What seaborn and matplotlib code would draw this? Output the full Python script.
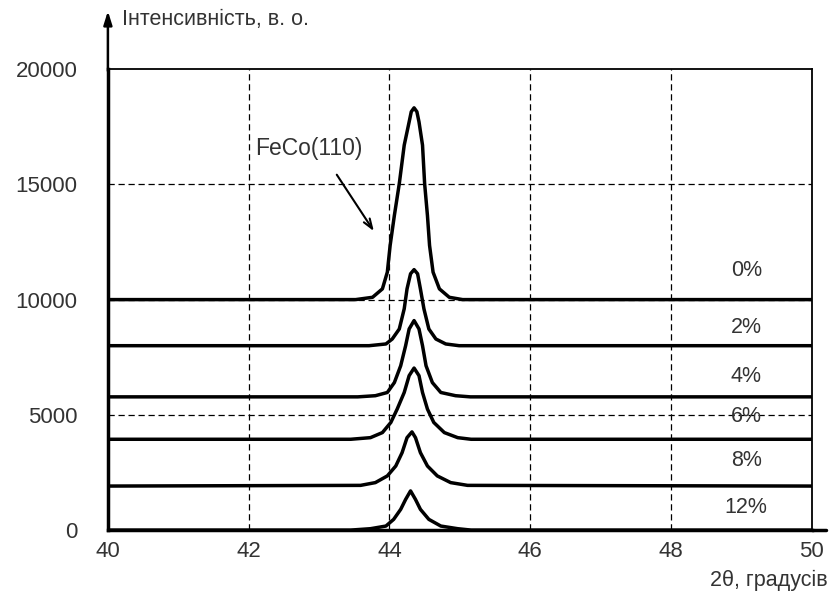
import pandas as pd
import matplotlib.pyplot as plt
import seaborn as sns

# FeCo(110) peak, samples offset vertically
samples = ['0%', '2%', '4%', '6%', '8%', '12%']

tt_0 = [40.0, 43.52, 43.76, 43.90, 43.97, 44.01, 44.07, 44.14, 44.21, 44.28, 44.31, 44.35, 44.39,
        44.42, 44.47, 44.50, 44.54, 44.57, 44.62, 44.71, 44.85, 45.04, 50.0]
int_0 = [10000, 10000, 10100, 10465, 11190, 12350, 13650, 15030, 16700, 17710, 18150, 18320, 18150,
         17710, 16700, 15030, 13650, 12350, 11190, 10465, 10100, 10000, 10000]

tt_2 = [40.0, 43.71, 43.95, 44.04, 44.14, 44.21, 44.25, 44.30, 44.35, 44.40, 44.44, 44.49, 44.56,
        44.66, 44.80, 44.99, 50.0]
int_2 = [8000, 8000, 8075, 8290, 8725, 9600, 10465, 11120, 11300, 11120, 10465, 9600, 8725,
         8290, 8075, 8000, 8000]

tt_4 = [40.0, 43.55, 43.80, 43.97, 44.07, 44.16, 44.23, 44.28, 44.35, 44.42, 44.47, 44.52, 44.61,
        44.73, 44.94, 45.15, 50.0]
int_4 = [5780, 5780, 5830, 5970, 6400, 7130, 8000, 8725, 9090, 8725, 8000, 7130, 6400,
         5970, 5830, 5780, 5780]

tt_6 = [40.0, 43.45, 43.73, 43.90, 44.02, 44.11, 44.21, 44.28, 44.35, 44.42, 44.47, 44.54, 44.63,
        44.78, 44.97, 45.16, 50.0]
int_6 = [3940, 3940, 4010, 4230, 4670, 5250, 5970, 6700, 7030, 6700, 5970, 5250, 4670,
         4230, 4010, 3940, 3940]

tt_8 = [40.0, 43.59, 43.80, 43.97, 44.09, 44.18, 44.25, 44.32, 44.37, 44.44, 44.54, 44.68, 44.87,
        45.11, 50.0]
int_8 = [1910, 1940, 2060, 2350, 2780, 3360, 4010, 4260, 4010, 3360, 2780, 2350, 2060,
         1940, 1910]

tt_12 = [40.0, 43.45, 43.73, 43.95, 44.06, 44.16, 44.23, 44.30, 44.37, 44.44, 44.56, 44.73, 44.97,
         45.16, 50.0]
int_12 = [0, 0, 60, 175, 465, 900, 1330, 1700, 1330, 900, 465, 175, 60,
          0, 0]

x_ticks = [40, 42, 44, 46, 48, 50]
y_ticks = [0, 5000, 10000, 15000, 20000]

frames = []
for name, tt, inten in zip(samples, [tt_0, tt_2, tt_4, tt_6, tt_8, tt_12],
                           [int_0, int_2, int_4, int_6, int_8, int_12]):
    frames.append(pd.DataFrame({'2theta': tt, 'intensity': inten, 'sample': name}))
df = pd.concat(frames, ignore_index=True)

sns.set_style('white')
plt.rcParams['font.family'] = ['Liberation Sans', 'DejaVu Sans']
txt_color = '#333333'

fig = plt.figure(figsize=(8.3, 6.01), dpi=100)
ax = fig.add_axes([0.130, 0.118, 0.848, 0.767])

# dashed grid
for x in x_ticks[1:-1]:
    ax.axvline(x, color='black', ls=(0, (5, 3)), lw=0.9, zorder=1)
for y in y_ticks[1:-1]:
    ax.axhline(y, color='black', ls=(0, (5, 3)), lw=0.9, zorder=1)

sns.lineplot(data=df, x='2theta', y='intensity', hue='sample', units='sample',
             estimator=None, sort=False, palette=['black'] * len(samples),
             legend=False, lw=2.5, ax=ax, zorder=3)
for line in ax.lines:
    line.set_solid_joinstyle('round')
    line.set_solid_capstyle('round')

ax.set_xlim(40, 50)
ax.set_ylim(0, 20000)
ax.set_xticks(x_ticks)
ax.set_yticks(y_ticks)
ax.set_xticklabels([str(v) for v in x_ticks])
ax.set_yticklabels([str(v) for v in y_ticks])
ax.tick_params(axis='both', length=0, labelsize=16, colors=txt_color)
ax.tick_params(axis='x', pad=8)
ax.tick_params(axis='y', pad=22)
ax.set_xlabel('')
ax.set_ylabel('')

for side in ['left', 'bottom']:
    ax.spines[side].set_linewidth(2.5)
for side in ['top', 'right']:
    ax.spines[side].set_linewidth(1.3)
for s in ax.spines.values():
    s.set_color('black')

# percentage labels
label_y = [11260, 8780, 6650, 4910, 3000, 960]
for name, ly in zip(samples, label_y):
    ax.text(49.07, ly, name, fontsize=15.5, color=txt_color, ha='center', va='center', zorder=4)

# peak annotation
ax.text(42.09, 16565, 'FeCo(110)', fontsize=16.5, color=txt_color, ha='left', va='center')
ax.annotate('', xy=(43.8, 12870), xytext=(43.23, 15520),
            arrowprops=dict(arrowstyle='->,head_length=0.7,head_width=0.25', color='black', lw=1.5))

# axis arrow and extended bottom line
ax.annotate('', xy=(0, 1.132), xytext=(0, 0.99), xycoords='axes fraction',
            arrowprops=dict(arrowstyle='-|>,head_length=0.8,head_width=0.25', color='black', lw=1.8))
ax.plot([1.0, 1.02], [0, 0], transform=ax.transAxes, color='black', lw=2.5, clip_on=False)

fig.text(0.147, 0.967, 'Інтенсивність, в. о.', fontsize=15.5, color=txt_color, ha='left', va='center')
fig.text(0.997, 0.035, '2θ, градусів', fontsize=15.5, color=txt_color, ha='right', va='center')

plt.savefig('out.png', dpi=100)
